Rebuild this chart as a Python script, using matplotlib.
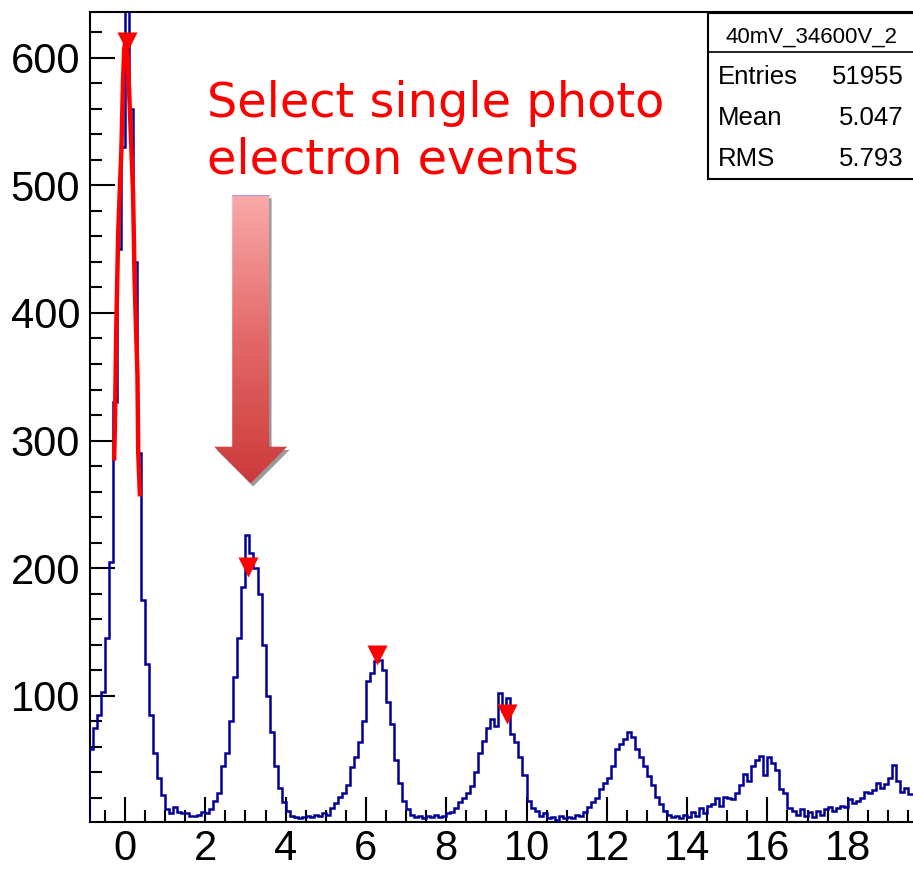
import numpy as np
import matplotlib
matplotlib.use("Agg")
import matplotlib.pyplot as plt
from matplotlib.patches import Polygon
from matplotlib.colors import LinearSegmentedColormap
from matplotlib.ticker import MultipleLocator

plt.rcParams['font.family'] = ['Liberation Sans', 'DejaVu Sans']

# histogram 40mV_34600V_2, bins of 0.1 starting at -0.9
bin_start = -0.9
bin_width = 0.1
counts = [
    58, 75, 85, 103, 145, 205, 330, 450, 530,
    660, 560, 440, 290, 175, 125, 85, 55, 36, 22,
    11, 8, 13, 9, 8, 8, 6, 6, 7, 9,
    8, 11, 18, 24, 45, 55, 80, 115, 145, 185,
    226, 212, 200, 180, 140, 100, 72, 45, 28, 17,
    10, 6, 5, 4, 5, 6, 5, 7, 6, 8,
    7, 12, 16, 21, 24, 30, 44, 52, 64, 80,
    112, 118, 127, 128, 120, 95, 78, 50, 32, 18,
    11, 7, 5, 6, 4, 6, 5, 7, 5, 6,
    8, 9, 12, 17, 20, 24, 29, 40, 55, 65,
    75, 82, 76, 102, 88, 98, 70, 64, 52, 38,
    18, 12, 10, 6, 8, 4, 5, 3, 6, 4,
    5, 4, 7, 6, 9, 13, 17, 20, 27, 32,
    36, 45, 58, 62, 66, 72, 68, 58, 52, 45,
    37, 30, 21, 15, 10, 7, 5, 6, 4, 7,
    5, 9, 6, 12, 8, 14, 15, 20, 14, 21,
    20, 19, 24, 30, 39, 33, 45, 50, 53, 38,
    52, 47, 42, 27, 24, 12, 10, 7, 11, 6,
    9, 5, 10, 7, 11, 13, 10, 12, 14, 13,
    19, 16, 18, 20, 25, 24, 26, 32, 28, 31,
    36, 46, 33, 25, 28, 23, 23,
]

fit_x = [-0.27, -0.25, -0.22, -0.17, -0.09, -0.05, -0.02, 0.03,
         0.07, 0.12, 0.20, 0.24, 0.31, 0.33, 0.37]
fit_y = [286, 314, 384, 463, 528, 581, 607, 615,
         600, 560, 495, 424, 351, 290, 258]

# found peaks
peak_x = [0.04, 3.07, 6.27, 9.51]
peak_y = [612, 201, 132, 86]

stats_title = "40mV_34600V_2"
stats_names = ["Entries", "Mean", "RMS"]
stats_values = ["51955", "5.047", "5.793"]
note_lines = ["Select single photo", "electron events"]
x_ticks = [0, 2, 4, 6, 8, 10, 12, 14, 16, 18]
y_ticks = [100, 200, 300, 400, 500, 600]

W, H = 913, 872
fig = plt.figure(figsize=(W / 100, H / 100), dpi=100)
ax = fig.add_axes([90 / W, 1 - 821.7 / H, (W - 90) / W, (821.7 - 11.7) / H])
ax.set_facecolor('white')

edges = bin_start + bin_width * np.arange(len(counts) + 1)
ax.stairs(counts, edges, color='#000099', lw=1.8, zorder=3)
ax.plot(fit_x, fit_y, color='red', lw=3.2, zorder=4)
ax.plot(peak_x, peak_y, 'v', color='red', ms=14, mec='none', zorder=5)

# big gradient arrow
arrow = [(2.67, 492.4), (3.59, 492.4), (3.59, 295.2), (4.04, 295.2),
         (3.13, 266.5), (2.22, 295.2), (2.67, 295.2)]
shadow = Polygon([(x + 0.06, y - 2.5) for x, y in arrow], closed=True,
                 facecolor='#9a9a9a', edgecolor='none', zorder=1.5)
ax.add_patch(shadow)
clip = Polygon(arrow, closed=True, facecolor='none', edgecolor='none',
               transform=ax.transData)
ax.add_patch(clip)
cmap = LinearSegmentedColormap.from_list('arr', ['#cc3a3a', '#e46868', '#f9aaaa'])
grad = np.linspace(0, 1, 256).reshape(-1, 1)
im = ax.imshow(grad, extent=[2.22, 4.04, 266.5, 492.4], origin='lower',
               cmap=cmap, aspect='auto', zorder=1.6)
im.set_clip_path(clip)
ax.plot([2.67, 3.59], [492.4, 492.4], color='#a0a0e0', lw=0.8, zorder=1.7)

ax.set_xlim(-0.872, 19.626)
ax.set_ylim(1.4, 636)
ax.set_xticks(x_ticks)
ax.set_yticks(y_ticks)
ax.xaxis.set_minor_locator(MultipleLocator(0.5))
ax.yaxis.set_minor_locator(MultipleLocator(20))
ax.tick_params(which='both', direction='in', top=False, right=False,
               width=1.5, labelsize=30)
ax.tick_params(which='major', length=18)
ax.tick_params(which='minor', length=8.5)
ax.tick_params(axis='y', pad=7)
ax.tick_params(axis='x', pad=5)
for s in ['left', 'bottom', 'top']:
    ax.spines[s].set_linewidth(1.5)
ax.spines['right'].set_visible(False)

# stats box
sb = fig.add_axes([707.5 / W, 1 - 179 / H, (W - 707.5) / W + 0.01, (179 - 13) / H])
sb.set_xlim(0, 1)
sb.set_ylim(0, 1)
sb.set_xticks([])
sb.set_yticks([])
for s in sb.spines.values():
    s.set_linewidth(1.5)
sb.axhline((179 - 51.7) / (179 - 13), color='black', lw=1.2)
fig.text(811 / W, 1 - 42.5 / H, stats_title, ha='center', va='baseline', fontsize=16)
for i, (n, v) in enumerate(zip(stats_names, stats_values)):
    yb = 1 - (83.5 + 41.5 * i) / H
    fig.text(718 / W, yb, n, ha='left', va='baseline', fontsize=18.5)
    fig.text(904 / W, yb, v, ha='right', va='baseline', fontsize=18.5)

# annotation
for i, line in enumerate(note_lines):
    fig.text(207 / W, 1 - (117 + 56 * i) / H, line, color='red',
             family='DejaVu Sans', fontsize=34.5, ha='left', va='baseline')

fig.savefig('out.png', dpi=100, facecolor='white')
